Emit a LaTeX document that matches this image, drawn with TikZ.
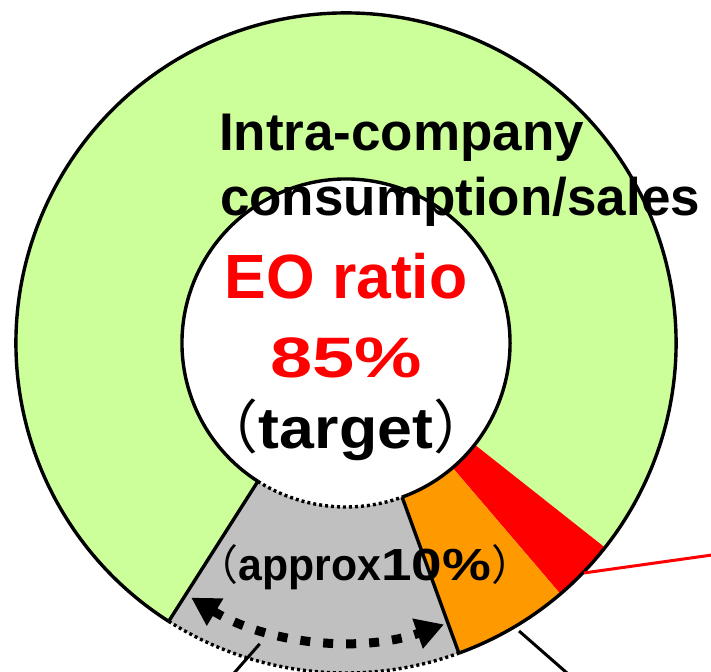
\documentclass[tikz,border=0pt]{standalone}
\usepackage{fontspec}
\setmainfont{Liberation Sans}
\newfontfamily\cjk{Noto Sans CJK JP}
\usetikzlibrary{arrows.meta}
\definecolor{ringgreen}{HTML}{CCFF99}
\definecolor{ringgray}{HTML}{C0C0C0}
\definecolor{ringorange}{HTML}{FF9900}
\definecolor{ringred}{HTML}{FF0000}
\begin{document}
\begin{tikzpicture}[x=1pt,y=1pt,
  lbl/.style={inner sep=0pt, outer sep=0pt, font=\bfseries},
  outline/.style={line width=3.4pt, draw=black},
  dotline/.style={line width=3.4pt, draw=black, dash pattern=on 3pt off 3pt},
  arrowline/.style={line width=9pt, draw=black, dash pattern=on 10pt off 13pt,
     {Triangle[length=28pt,width=30pt]}-{Triangle[length=28pt,width=30pt]}},
  leader/.style={line width=3pt}]
\useasboundingbox (0,0) rectangle (711,-671);
\clip (0,0) rectangle (711,-671);
\begin{scope}[shift={(346,-343)}]
  % sectors
  \fill[ringgreen] (-38.3:330pt) arc[start angle=-38.3, end angle=237.5, radius=330pt]
     -- (237.5:164pt) arc[start angle=237.5, end angle=-38.3, radius=164pt] -- cycle;
  \fill[ringred] (-49.5:330pt) arc[start angle=-49.5, end angle=-38.3, radius=330pt]
     -- (-38.3:164pt) arc[start angle=-38.3, end angle=-49.5, radius=164pt] -- cycle;
  \fill[ringorange] (-70:330pt) arc[start angle=-70, end angle=-49.5, radius=330pt]
     -- (-49.5:164pt) arc[start angle=-49.5, end angle=-70, radius=164pt] -- cycle;
  \fill[ringgray] (-122.5:330pt) arc[start angle=-122.5, end angle=-70, radius=330pt]
     -- (-70:164pt) arc[start angle=-70, end angle=-122.5, radius=164pt] -- cycle;
  % outlines
  \draw[outline] (-70:330pt) arc[start angle=-70, end angle=237.5, radius=330pt];
  \draw[outline] (-70:164pt) arc[start angle=-70, end angle=237.5, radius=164pt];
  \draw[outline] (237.5:164pt) -- (237.5:330pt);
  \draw[outline] (-70:164pt) -- (-70:330pt);
  \draw[dotline] (-122.5:330pt) arc[start angle=-122.5, end angle=-70, radius=330pt];
  \draw[dotline] (-122.5:164pt) arc[start angle=-122.5, end angle=-70, radius=164pt];
  % double arrow
  \coordinate (arrL) at (-121.3:298pt);
  \draw[arrowline] (arrL) arc[start angle=-121.3, end angle=-70.8, radius=298pt] coordinate (arrR);
  % leader line anchors
  \coordinate (redA) at (-44:331pt);
  \coordinate (orgA) at (-59:336pt);
  \coordinate (gryA) at (-106:313pt);
\end{scope}
\coordinate (redB) at (712,-555);
\coordinate (orgB) at (575,-680);
\coordinate (gryB) at (228,-680);
\draw[leader, ringred] (redA) -- (redB);
\draw[leader, black] (orgA) -- (orgB);
\draw[leader, black] (gryA) -- (gryB);
% texts
\node[lbl, anchor=base west, font=\bfseries\fontsize{53}{60}\selectfont] (t1) at (219,-150) {Intra-company};
\node[lbl, anchor=base west, font=\bfseries\fontsize{53}{60}\selectfont] (t2) at (220,-215) {consumption/sales};
\node[lbl, anchor=base, text=ringred, font=\bfseries\fontsize{62.5}{66}\selectfont] (eo) at (346,-298) {EO ratio};
\node[lbl, anchor=base, text=ringred, font=\bfseries\fontsize{57}{60}\selectfont\addfontfeature{FakeStretch=1.33}] (pc) at (346,-377) {85\%};
\node[lbl, anchor=base, font=\bfseries\fontsize{58}{60}\selectfont] (tg) at (346,-448)
  {{\cjk\mdseries\fontsize{58}{60}\selectfont （}{\addfontfeature{FakeStretch=1.08}target}{\cjk\mdseries\fontsize{58}{60}\selectfont ）}};
\node[lbl, anchor=base, font=\bfseries\fontsize{45}{50}\selectfont] (ap) at (365,-580)
  {{\cjk\mdseries\fontsize{42}{50}\selectfont （}{\fontsize{45}{50}\selectfont\addfontfeature{FakeStretch=0.95}approx}{\addfontfeature{FakeStretch=1.22}10\%}{\cjk\mdseries\fontsize{42}{50}\selectfont ）}};
\end{tikzpicture}
\end{document}
